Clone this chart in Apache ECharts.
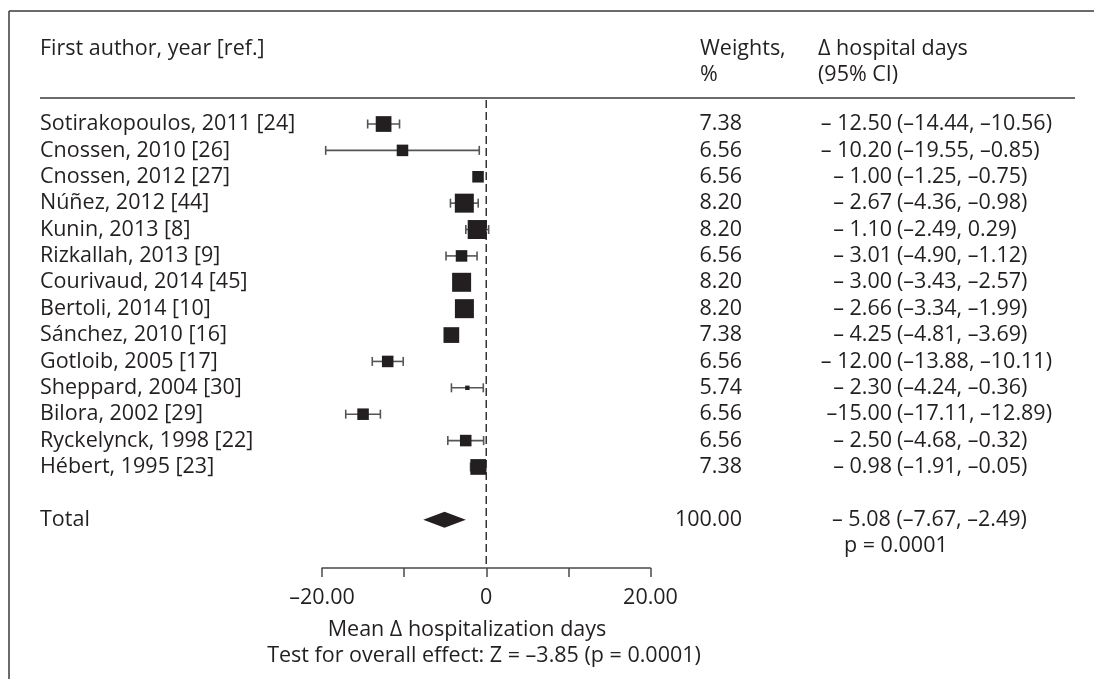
<!DOCTYPE html>
<html><head><meta charset="utf-8">
<script src="https://cdn.jsdelivr.net/npm/echarts@6/dist/echarts.min.js"></script>
<style>html,body{margin:0;padding:0;background:#fff}#c{width:1094px;height:679px}</style>
</head><body><div id="c"></div>
<script>
// ---- data ----
const studies = ['Sotirakopoulos, 2011 [24]','Cnossen, 2010 [26]','Cnossen, 2012 [27]','Núñez, 2012 [44]','Kunin, 2013 [8]','Rizkallah, 2013 [9]','Courivaud, 2014 [45]','Bertoli, 2014 [10]','Sánchez, 2010 [16]','Gotloib, 2005 [17]','Sheppard, 2004 [30]','Bilora, 2002 [29]','Ryckelynck, 1998 [22]','Hébert, 1995 [23]'];
const weights = [7.38, 6.56, 6.56, 8.20, 8.20, 6.56, 8.20, 8.20, 7.38, 6.56, 5.74, 6.56, 6.56, 7.38];
const means = [-12.50, -10.20, -1.00, -2.67, -1.10, -3.01, -3.00, -2.66, -4.25, -12.00, -2.30, -15.00, -2.50, -0.98];
const lows  = [-14.44, -19.55, -1.25, -4.36, -2.49, -4.90, -3.43, -3.34, -4.81, -13.88, -4.24, -17.11, -4.68, -1.91];
const highs = [-10.56, -0.85, -0.75, -0.98, 0.29, -1.12, -2.57, -1.99, -3.69, -10.11, -0.36, -12.89, -0.32, -0.05];
const effectLabels = ['– 12.50','– 10.20','– 1.00','– 2.67','– 1.10','– 3.01','– 3.00','– 2.66','– 4.25','– 12.00','– 2.30','–15.00','– 2.50','– 0.98'];
const ciLabels = ['(–14.44, –10.56)','(–19.55, –0.85)','(–1.25, –0.75)','(–4.36, –0.98)','(–2.49, 0.29)','(–4.90, –1.12)','(–3.43, –2.57)','(–3.34, –1.99)','(–4.81, –3.69)','(–13.88, –10.11)','(–4.24, –0.36)','(–17.11, –12.89)','(–4.68, –0.32)','(–1.91, –0.05)'];
const totalMean = -5.08, totalLow = -7.67, totalHigh = -2.49;
const totalWeightLabel = '100.00';
const totalLabel = '– 5.08 (–7.67, –2.49)';
const totalP = 'p = 0.0001';
const xTicks = [-20, -10, 0, 10, 20];
const xTickLabels = ['–20.00', '', '0', '', '20.00'];
const xTitle = 'Mean Δ hospitalization days';
const testLine = 'Test for overall effect: Z = –3.85 (p = 0.0001)';

// ---- styling ----
const FONT = '"Open Sans", "Noto Sans", sans-serif';
const FS = 21.5;
const INK = '#231f20';
const TOTAL_ROW = studies.length + 1;
function boxSize(w) { return 19 * Math.sqrt(Math.max(0, (w - 5.6) / (8.2 - 5.6))); }
function txt(x, y, s, align) {
  return { type: 'text', x: x, y: y, style: { text: s, fill: INK, font: FS + 'px ' + FONT, align: align || 'left', verticalAlign: 'middle' } };
}

const rows = studies.map((s, i) => [means[i], i, lows[i], highs[i]]);

const chart = echarts.init(document.getElementById('c'), null, { renderer: 'canvas' });
chart.setOption({
  animation: false,
  backgroundColor: '#fff',
  grid: { left: 322, right: 1094 - 650.5, top: 100, bottom: 679 - 568 },
  xAxis: {
    type: 'value', min: -20, max: 20, interval: 10,
    axisLine: { show: true, onZero: false, lineStyle: { color: '#4a4a4a', width: 1.5 } },
    axisTick: { show: true, length: 9, lineStyle: { color: '#4a4a4a', width: 1.5 } },
    splitLine: { show: false },
    axisLabel: {
      margin: 19, color: INK, fontSize: FS, fontFamily: FONT,
      formatter: v => { const k = xTicks.indexOf(v); return k >= 0 ? xTickLabels[k] : ''; }
    }
  },
  yAxis: { type: 'value', min: -0.91, max: 16.83, inverse: true, show: false },
  graphic: [
    { type: 'line', shape: { x1: 9, y1: 11, x2: 1094, y2: 11 }, style: { stroke: '#3a3a3a', lineWidth: 1.5 } },
    { type: 'line', shape: { x1: 9, y1: 11, x2: 9, y2: 679 }, style: { stroke: '#3a3a3a', lineWidth: 1.5 } },
    { type: 'line', shape: { x1: 40, y1: 98, x2: 1075, y2: 98 }, style: { stroke: '#3a3a3a', lineWidth: 1.5 } },
    txt(40, 49, 'First author, year [ref.]'),
    txt(700, 49, 'Weights,'),
    txt(700, 75, '%'),
    txt(818, 49, 'Δ hospital days'),
    txt(818, 75, '(95% CI)'),
    txt(467, 630, xTitle, 'center'),
    txt(484, 656, testLine, 'center')
  ],
  series: [
    {
      type: 'line', data: [[0, -0.91], [0, 16.83]], symbol: 'none', silent: true, z: 1,
      lineStyle: { color: '#333', width: 1.5, type: [8, 4] }
    },
    {
      type: 'custom', z: 2, data: rows,
      renderItem: (p, api) => {
        const a = api.coord([api.value(2), api.value(1)]);
        const b = api.coord([api.value(3), api.value(1)]);
        const st = { stroke: '#555', lineWidth: 1.6 };
        return { type: 'group', children: [
          { type: 'line', shape: { x1: a[0], y1: a[1], x2: b[0], y2: b[1] }, style: st },
          { type: 'line', shape: { x1: a[0], y1: a[1] - 4.5, x2: a[0], y2: a[1] + 4.5 }, style: st },
          { type: 'line', shape: { x1: b[0], y1: b[1] - 4.5, x2: b[0], y2: b[1] + 4.5 }, style: st }
        ] };
      }
    },
    {
      type: 'scatter', z: 3, data: rows.map(r => [r[0], r[1]]), symbol: 'rect',
      symbolSize: (v, p) => boxSize(weights[p.dataIndex]),
      itemStyle: { color: INK, opacity: 1 }
    },
    {
      type: 'custom', z: 3, data: [[totalMean, TOTAL_ROW, totalLow, totalHigh]],
      renderItem: (p, api) => {
        const c = api.coord([api.value(0), api.value(1)]);
        const l = api.coord([api.value(2), api.value(1)]);
        const h = api.coord([api.value(3), api.value(1)]);
        return { type: 'polygon', shape: { points: [[l[0], c[1]], [c[0], c[1] - 8], [h[0], c[1]], [c[0], c[1] + 8]] }, style: { fill: INK } };
      }
    },
    {
      type: 'custom', z: 4, data: rows, clip: false,
      renderItem: (p, api) => {
        const i = p.dataIndex;
        const y = api.coord([0, api.value(1)])[1];
        return { type: 'group', children: [
          txt(40, y, studies[i]),
          txt(742, y, weights[i].toFixed(2), 'right'),
          txt(892, y, effectLabels[i], 'right'),
          txt(897, y, ciLabels[i])
        ] };
      }
    },
    {
      type: 'custom', z: 4, data: [[0, TOTAL_ROW]], clip: false,
      renderItem: (p, api) => {
        const y = api.coord([0, api.value(1)])[1];
        const y2 = api.coord([0, api.value(1) + 1])[1];
        return { type: 'group', children: [
          txt(40, y, 'Total'),
          txt(742, y, totalWeightLabel, 'right'),
          txt(832, y, totalLabel),
          txt(844, y2, totalP)
        ] };
      }
    }
  ]
});
</script></body></html>
